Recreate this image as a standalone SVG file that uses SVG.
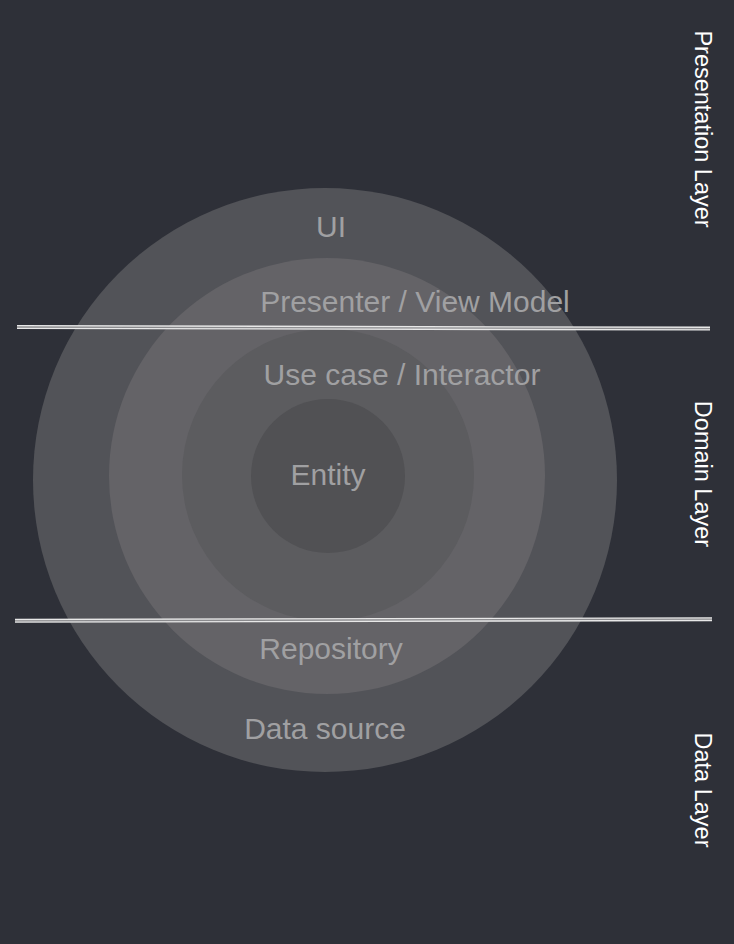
<svg xmlns="http://www.w3.org/2000/svg" width="734" height="944" viewBox="0 0 734 944">
<style>
.lbl{font-family:"Liberation Sans",Arial,sans-serif;font-size:30px;fill:#a0a0a2;text-anchor:middle}
.side{font-family:"Liberation Sans",Arial,sans-serif;font-size:23.5px;fill:#ffffff;text-anchor:middle}
.sepw{stroke:#e8e8e8;stroke-width:4;fill:none}
.sepg{stroke:#8a8a8d;stroke-width:1.3;fill:none}
</style>
<rect width="734" height="944" fill="#2e3038"/>
<g id="data-source"><circle cx="325" cy="480" r="292" fill="#525358"/></g>
<g id="repository"><circle cx="327" cy="476" r="218" fill="#646367"/></g>
<g id="use-case"><circle cx="328" cy="475" r="146" fill="#5c5c5f"/></g>
<g id="entity"><circle cx="328" cy="476" r="77" fill="#515154"/></g>
<g id="labels">
<text class="lbl" x="331" y="237">UI</text>
<text class="lbl" x="415" y="312">Presenter / View Model</text>
<text class="lbl" x="402" y="385">Use case / Interactor</text>
<text class="lbl" x="328" y="485">Entity</text>
<text class="lbl" x="331" y="659">Repository</text>
<text class="lbl" x="325" y="739">Data source</text>
</g>
<g id="connectors">
<line class="sepw" x1="17" y1="327" x2="710" y2="328.6"/>
<line class="sepg" x1="17" y1="327" x2="710" y2="328.6"/>
<line class="sepw" x1="15" y1="620.8" x2="712" y2="619.2"/>
<line class="sepg" x1="15" y1="620.8" x2="712" y2="619.2"/>
</g>
<g id="layers">
<text class="side" transform="translate(695,129) rotate(90)">Presentation Layer</text>
<text class="side" transform="translate(695,474) rotate(90)">Domain Layer</text>
<text class="side" transform="translate(695,790) rotate(90)">Data Layer</text>
</g>
</svg>
